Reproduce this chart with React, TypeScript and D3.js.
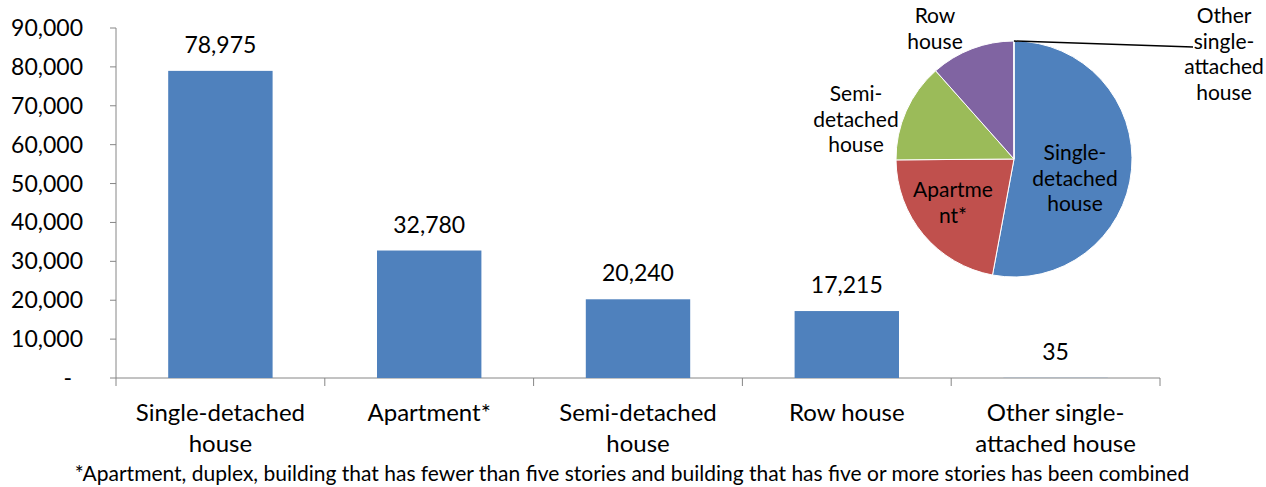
import React, { useEffect, useRef } from "react";
import * as d3 from "d3";

const W = 1266;
const H = 487;

// data
const categories = [
  "Single-detached house",
  "Apartment*",
  "Semi-detached house",
  "Row house",
  "Other single-attached house",
];
const values = [78975, 32780, 20240, 17215, 35];
const axisLines = [
  ["Single-detached", "house"],
  ["Apartment*"],
  ["Semi-detached", "house"],
  ["Row house"],
  ["Other single-", "attached house"],
];
const pieLines = [
  ["Single-", "detached", "house"],
  ["Apartme", "nt*"],
  ["Semi-", "detached", "house"],
  ["Row", "house"],
  ["Other", "single-", "attached", "house"],
];
const yTicks = [0, 10000, 20000, 30000, 40000, 50000, 60000, 70000, 80000, 90000];
const colors = ["#4F81BD", "#C0504D", "#9BBB59", "#8064A2", "#4BACC6"];
const footnote =
  "*Apartment, duplex, building that has fewer than five stories and building that has five or more stories has been combined";

const FONT = "Lato, 'Open Sans', sans-serif";
const plot = { left: 116, right: 1160, top: 28, bottom: 378 };

function drawChart(svgEl: SVGSVGElement) {
  const svg = d3.select(svgEl);
  svg.selectAll("*").remove();

  const x = d3.scaleBand().domain(categories).range([plot.left, plot.right]).paddingInner(0.5).paddingOuter(0.25);
  const y = d3.scaleLinear().domain([0, 90000]).range([plot.bottom, plot.top]);
  const fmt = d3.format(",");

  // y axis
  const gy = svg.append("g").attr("transform", `translate(${plot.left},0)`);
  gy.append("line").attr("y1", plot.top).attr("y2", plot.bottom).attr("stroke", "#868686");
  gy.selectAll("line.tk")
    .data(yTicks)
    .enter()
    .append("line")
    .attr("class", "tk")
    .attr("x1", -6)
    .attr("x2", 0)
    .attr("y1", d => y(d))
    .attr("y2", d => y(d))
    .attr("stroke", "#868686");
  gy.selectAll("text")
    .data(yTicks)
    .enter()
    .append("text")
    .attr("x", d => (d === 0 ? -44 : -33))
    .attr("y", d => y(d))
    .attr("dy", "0.35em")
    .attr("text-anchor", "end")
    .style("font-family", FONT)
    .style("font-size", "23px")
    .attr("fill", "#000")
    .text(d => (d === 0 ? "-" : fmt(d)));

  // x axis
  const gx = svg.append("g");
  gx.append("line")
    .attr("x1", plot.left)
    .attr("x2", plot.right)
    .attr("y1", plot.bottom)
    .attr("y2", plot.bottom)
    .attr("stroke", "#868686");
  const step = x.step();
  const edges = d3.range(categories.length + 1).map(i => plot.left + i * step);
  gx.selectAll("line.tk")
    .data(edges)
    .enter()
    .append("line")
    .attr("class", "tk")
    .attr("x1", d => d)
    .attr("x2", d => d)
    .attr("y1", plot.bottom)
    .attr("y2", plot.bottom + 8)
    .attr("stroke", "#868686");

  categories.forEach((c, i) => {
    const t = gx.append("text")
      .attr("text-anchor", "middle")
      .style("font-family", FONT)
      .style("font-size", "24px");
    axisLines[i].forEach((ln, j) => {
      t.append("tspan")
        .attr("x", x(c)! + x.bandwidth() / 2)
        .attr("y", 413 + j * 31)
        .attr("dy", "0.35em")
        .text(ln);
    });
  });

  // bars
  svg.selectAll("rect.bar")
    .data(values)
    .enter()
    .append("rect")
    .attr("class", "bar")
    .attr("x", (d, i) => x(categories[i])!)
    .attr("width", x.bandwidth())
    .attr("y", d => y(d))
    .attr("height", d => plot.bottom - y(d))
    .attr("fill", colors[0]);

  svg.selectAll("text.val")
    .data(values)
    .enter()
    .append("text")
    .attr("class", "val")
    .attr("x", (d, i) => x(categories[i])! + x.bandwidth() / 2)
    .attr("y", d => y(d) - 26)
    .attr("dy", "0.35em")
    .attr("text-anchor", "middle")
    .style("font-family", FONT)
    .style("font-size", "23px")
    .text(d => fmt(d));

  // pie
  const cx = 1014, cy = 159, r = 118;
  const pie = d3.pie<number>().sort(null).value(d => d);
  const arcs = pie(values);
  const arc = d3.arc<d3.PieArcDatum<number>>().innerRadius(0).outerRadius(r);
  const gp = svg.append("g").attr("transform", `translate(${cx},${cy})`);
  gp.selectAll("path")
    .data(arcs)
    .enter()
    .append("path")
    .attr("d", arc)
    .attr("fill", (d, i) => colors[i])
    .attr("stroke", "#fff")
    .attr("stroke-width", 1);

  // leader line for tiny slice
  const tiny = arcs[4];
  const mid = (tiny.startAngle + tiny.endAngle) / 2;
  gp.append("line")
    .attr("x1", Math.sin(mid) * r)
    .attr("y1", -Math.cos(mid) * r)
    .attr("x2", 179)
    .attr("y2", -112)
    .attr("stroke", "#000")
    .attr("stroke-width", 1.5);

  const labelPos: [number, number][] = [
    [1075, 153],
    [953, 190],
    [856, 94],
    [935, 16],
    [1224, 16],
  ];
  pieLines.forEach((lines, i) => {
    const t = svg.append("text")
      .attr("text-anchor", "middle")
      .style("font-family", FONT)
      .style("font-size", "21px");
    lines.forEach((ln, j) => {
      t.append("tspan")
        .attr("x", labelPos[i][0])
        .attr("y", labelPos[i][1] + j * 25.5)
        .attr("dy", "0.35em")
        .text(ln);
    });
  });

  // footnote
  svg.append("text")
    .attr("x", 632)
    .attr("y", 474)
    .attr("dy", "0.35em")
    .attr("text-anchor", "middle")
    .style("font-family", FONT)
    .style("font-size", "21px")
    .text(footnote);
}

export default function App() {
  const svgRef = useRef<SVGSVGElement>(null);
  useEffect(() => {
    if (svgRef.current) drawChart(svgRef.current);
  }, []);
  return (
    <svg
      ref={svgRef}
      width={W}
      height={H}
      style={{ position: "absolute", left: 0, top: 0, background: "#fff" }}
    />
  );
}
